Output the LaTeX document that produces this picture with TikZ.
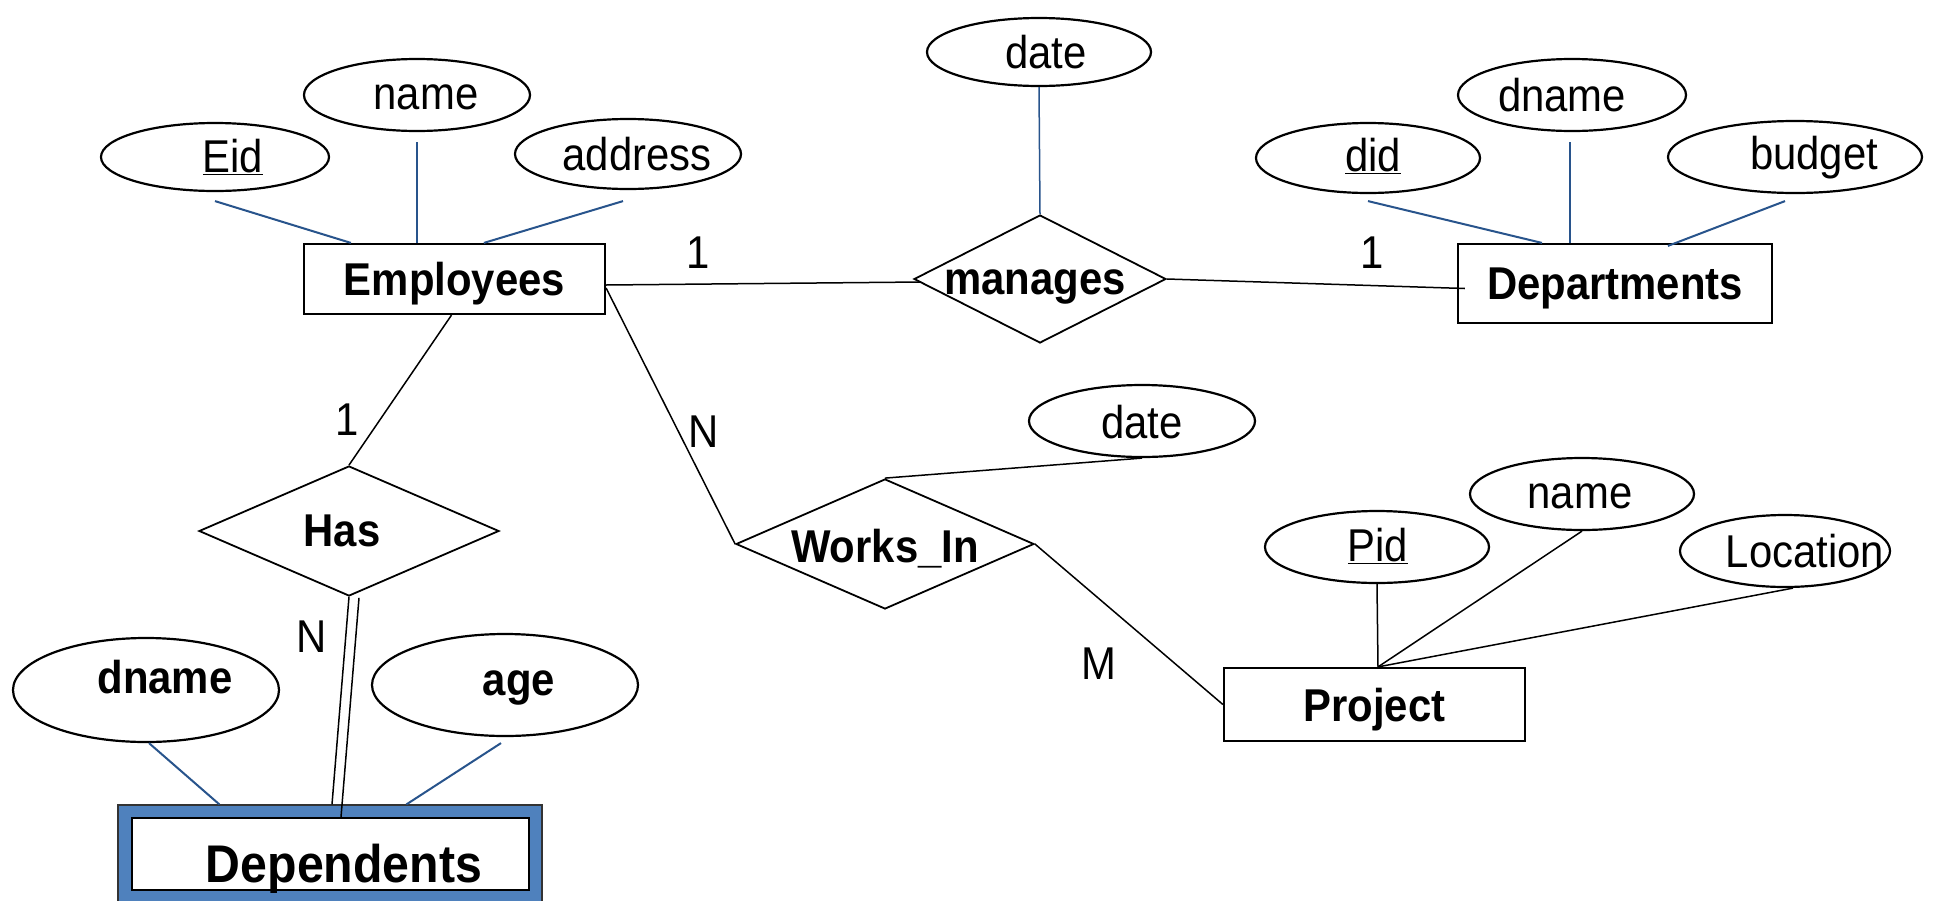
\documentclass[tikz,border=0pt]{standalone}
\usepackage{fontspec}
\setmainfont[FakeStretch=0.91]{Liberation Sans}
\usetikzlibrary{shapes.geometric}
\definecolor{attrline}{RGB}{40,84,140}
\definecolor{weakfill}{RGB}{79,129,189}
\begin{document}
\begin{tikzpicture}[x=1pt,y=-1pt,
  attr/.style={ellipse,draw,line width=2.2pt,inner sep=0pt},
  entity/.style={rectangle,draw,line width=2.2pt,inner sep=0pt,text depth=0pt,font=\fontsize{46}{52}\selectfont\bfseries},
  rel/.style={diamond,draw,line width=1.8pt,inner sep=0pt,aspect=2},
  txt/.style={inner sep=0pt,font=\fontsize{46}{52}\selectfont},
  btxt/.style={inner sep=0pt,font=\fontsize{46}{52}\selectfont\bfseries},
  alink/.style={draw=attrline,line width=2pt},
  rlink/.style={draw=black,line width=1.5pt},
  card/.style={inner sep=0pt,font=\fontsize{46}{52}\selectfont}]
\useasboundingbox (0,0) rectangle (1936,900);
\fill[white] (0,0) rectangle (1936,900);

% ---- entity sets
\node[entity,minimum width=301pt,minimum height=70pt] (emp) at (454.5,279) {Employees};
\node[entity,minimum width=314pt,minimum height=79pt] (dept) at (1615,283.5) {Departments};
\node[entity,minimum width=301pt,minimum height=73pt] (proj) at (1374.5,704.5) {Project};

% weak entity set with its thick blue frame
\node[rectangle,draw=black!80,line width=1.2pt,fill=weakfill,inner sep=0pt,
      minimum width=424pt,minimum height=110pt] (dep) at (330,860) {};
\node[rectangle,draw=black,line width=1.8pt,fill=white,inner sep=0pt,
      minimum width=397pt,minimum height=72pt] (depin) at (330.5,854) {};
\node[btxt,font=\fontsize{53}{60}\selectfont\bfseries] (deptxt) at (344,869) {Dependents};

% ---- relationship sets
\node[rel,minimum width=252pt,minimum height=128pt] (manages) at (1040,279) {};
\node[btxt] (managestxt) at (1035,287) {manages};
\node[rel,minimum width=300pt,minimum height=130pt] (has) at (349,531) {};
\node[btxt] (hastxt) at (342,531) {Has};
\node[rel,minimum width=298pt,minimum height=130pt] (works) at (885,544) {};
\node[btxt] (workstxt) at (885,549) {Works\_In};

% ---- attributes
\node[attr,minimum width=228pt,minimum height=68pt] (eid) at (215,157) {};
\node[txt] (eidtxt) at (233,157) {\underline{Eid}};
\node[attr,minimum width=226pt,minimum height=72pt] (ename) at (417,95) {};
\node[txt] (enametxt) at (426,97) {name};
\node[attr,minimum width=226pt,minimum height=70pt] (addr) at (628,154) {};
\node[txt] (addrtxt) at (637,154) {address};

\node[attr,minimum width=224pt,minimum height=68pt] (mdate) at (1039,52) {};
\node[txt] (mdatetxt) at (1046,52) {date};

\node[attr,minimum width=224pt,minimum height=70pt] (did) at (1368,158) {};
\node[txt] (didtxt) at (1373,156) {\underline{did}};
\node[attr,minimum width=228pt,minimum height=72pt] (ddname) at (1572,95) {};
\node[txt] (ddnametxt) at (1562,95) {dname};
\node[attr,minimum width=254pt,minimum height=72pt] (budget) at (1795,157) {};
\node[txt] (budgettxt) at (1814,158) {budget};

\node[attr,minimum width=226pt,minimum height=72pt] (wdate) at (1142,421) {};
\node[txt] (wdatetxt) at (1142,422) {date};

\node[attr,minimum width=224pt,minimum height=72pt] (pid) at (1377,547) {};
\node[txt] (pidtxt) at (1378,546) {\underline{Pid}};
\node[attr,minimum width=224pt,minimum height=72pt] (pname) at (1582,494) {};
\node[txt] (pnametxt) at (1580,496) {name};
\node[attr,minimum width=210pt,minimum height=72pt] (loc) at (1785,551) {};
\node[txt] (loctxt) at (1805,551) {Location};

\node[attr,minimum width=266pt,minimum height=104pt] (ddn) at (146,690) {};
\node[btxt] (ddntxt) at (165,677) {dname};
\node[attr,minimum width=266pt,minimum height=102pt] (age) at (505,685) {};
\node[btxt] (agetxt) at (519,688) {age};

% ---- attribute links
\draw[alink] ([yshift=-9pt]eid.south) -- ([xshift=48pt]emp.north west);
\draw[alink] ([yshift=-10pt]ename.south) -- (ename.south |- emp.north);
\draw[alink] ([xshift=-5pt,yshift=-11pt]addr.south) -- ([xshift=181pt]emp.north west);
\draw[alink,line width=1.5pt] (mdate.south) -- (manages.north);
\draw[alink] ([yshift=-7pt]did.south) -- ([xshift=85pt]dept.north west);
\draw[alink] ([xshift=-2pt,yshift=-10pt]ddname.south) -- ([xshift=-2pt]ddname.south |- dept.north);
\draw[alink] ([xshift=-10pt,yshift=-7pt]budget.south) -- ([xshift=211pt,yshift=-3pt]dept.north west);
\draw[alink] ([xshift=3pt]ddn.south) -- ([xshift=102pt]dep.north west);
\draw[alink] ([xshift=-4pt,yshift=-6pt]age.south) -- ([xshift=289pt]dep.north west);

\coordinate (pj) at ([xshift=3.5pt]proj.north);
\draw[rlink] (pid.south) -- (pj);
\draw[rlink] (pname.south) -- (pj);
\draw[rlink] ([xshift=8pt]loc.south) -- (pj);

% ---- relationship links
\draw[rlink] ([yshift=-6pt]emp.east) -- ([xshift=8pt,yshift=-3pt]manages.west);
\draw[rlink] (manages.east) -- ([xshift=8pt,yshift=-5pt]dept.west);
\draw[rlink] ([xshift=-3pt]emp.south) -- (has.north);
\draw[rlink] ([yshift=-9pt]emp.east) -- (works.west);
\draw[rlink] (works.north) -- (wdate.south);
\draw[rlink] (works.east) -- (proj.west);
% total participation: double line
\draw[rlink] (has.south) -- ([xshift=2pt]dep.north);
\draw[rlink] ([xshift=10pt,yshift=-1pt]has.south) -- ([xshift=10.5pt]depin.north);

% ---- cardinalities
\node[card] (c1) at (698,253) {1};
\node[card] (c2) at (1372,253) {1};
\node[card] (c3) at (347,420) {1};
\node[card] (c4) at (704,432) {N};
\node[card] (c5) at (312,637) {N};
\node[card] (c6) at (1099,664) {M};
\end{tikzpicture}
\end{document}
